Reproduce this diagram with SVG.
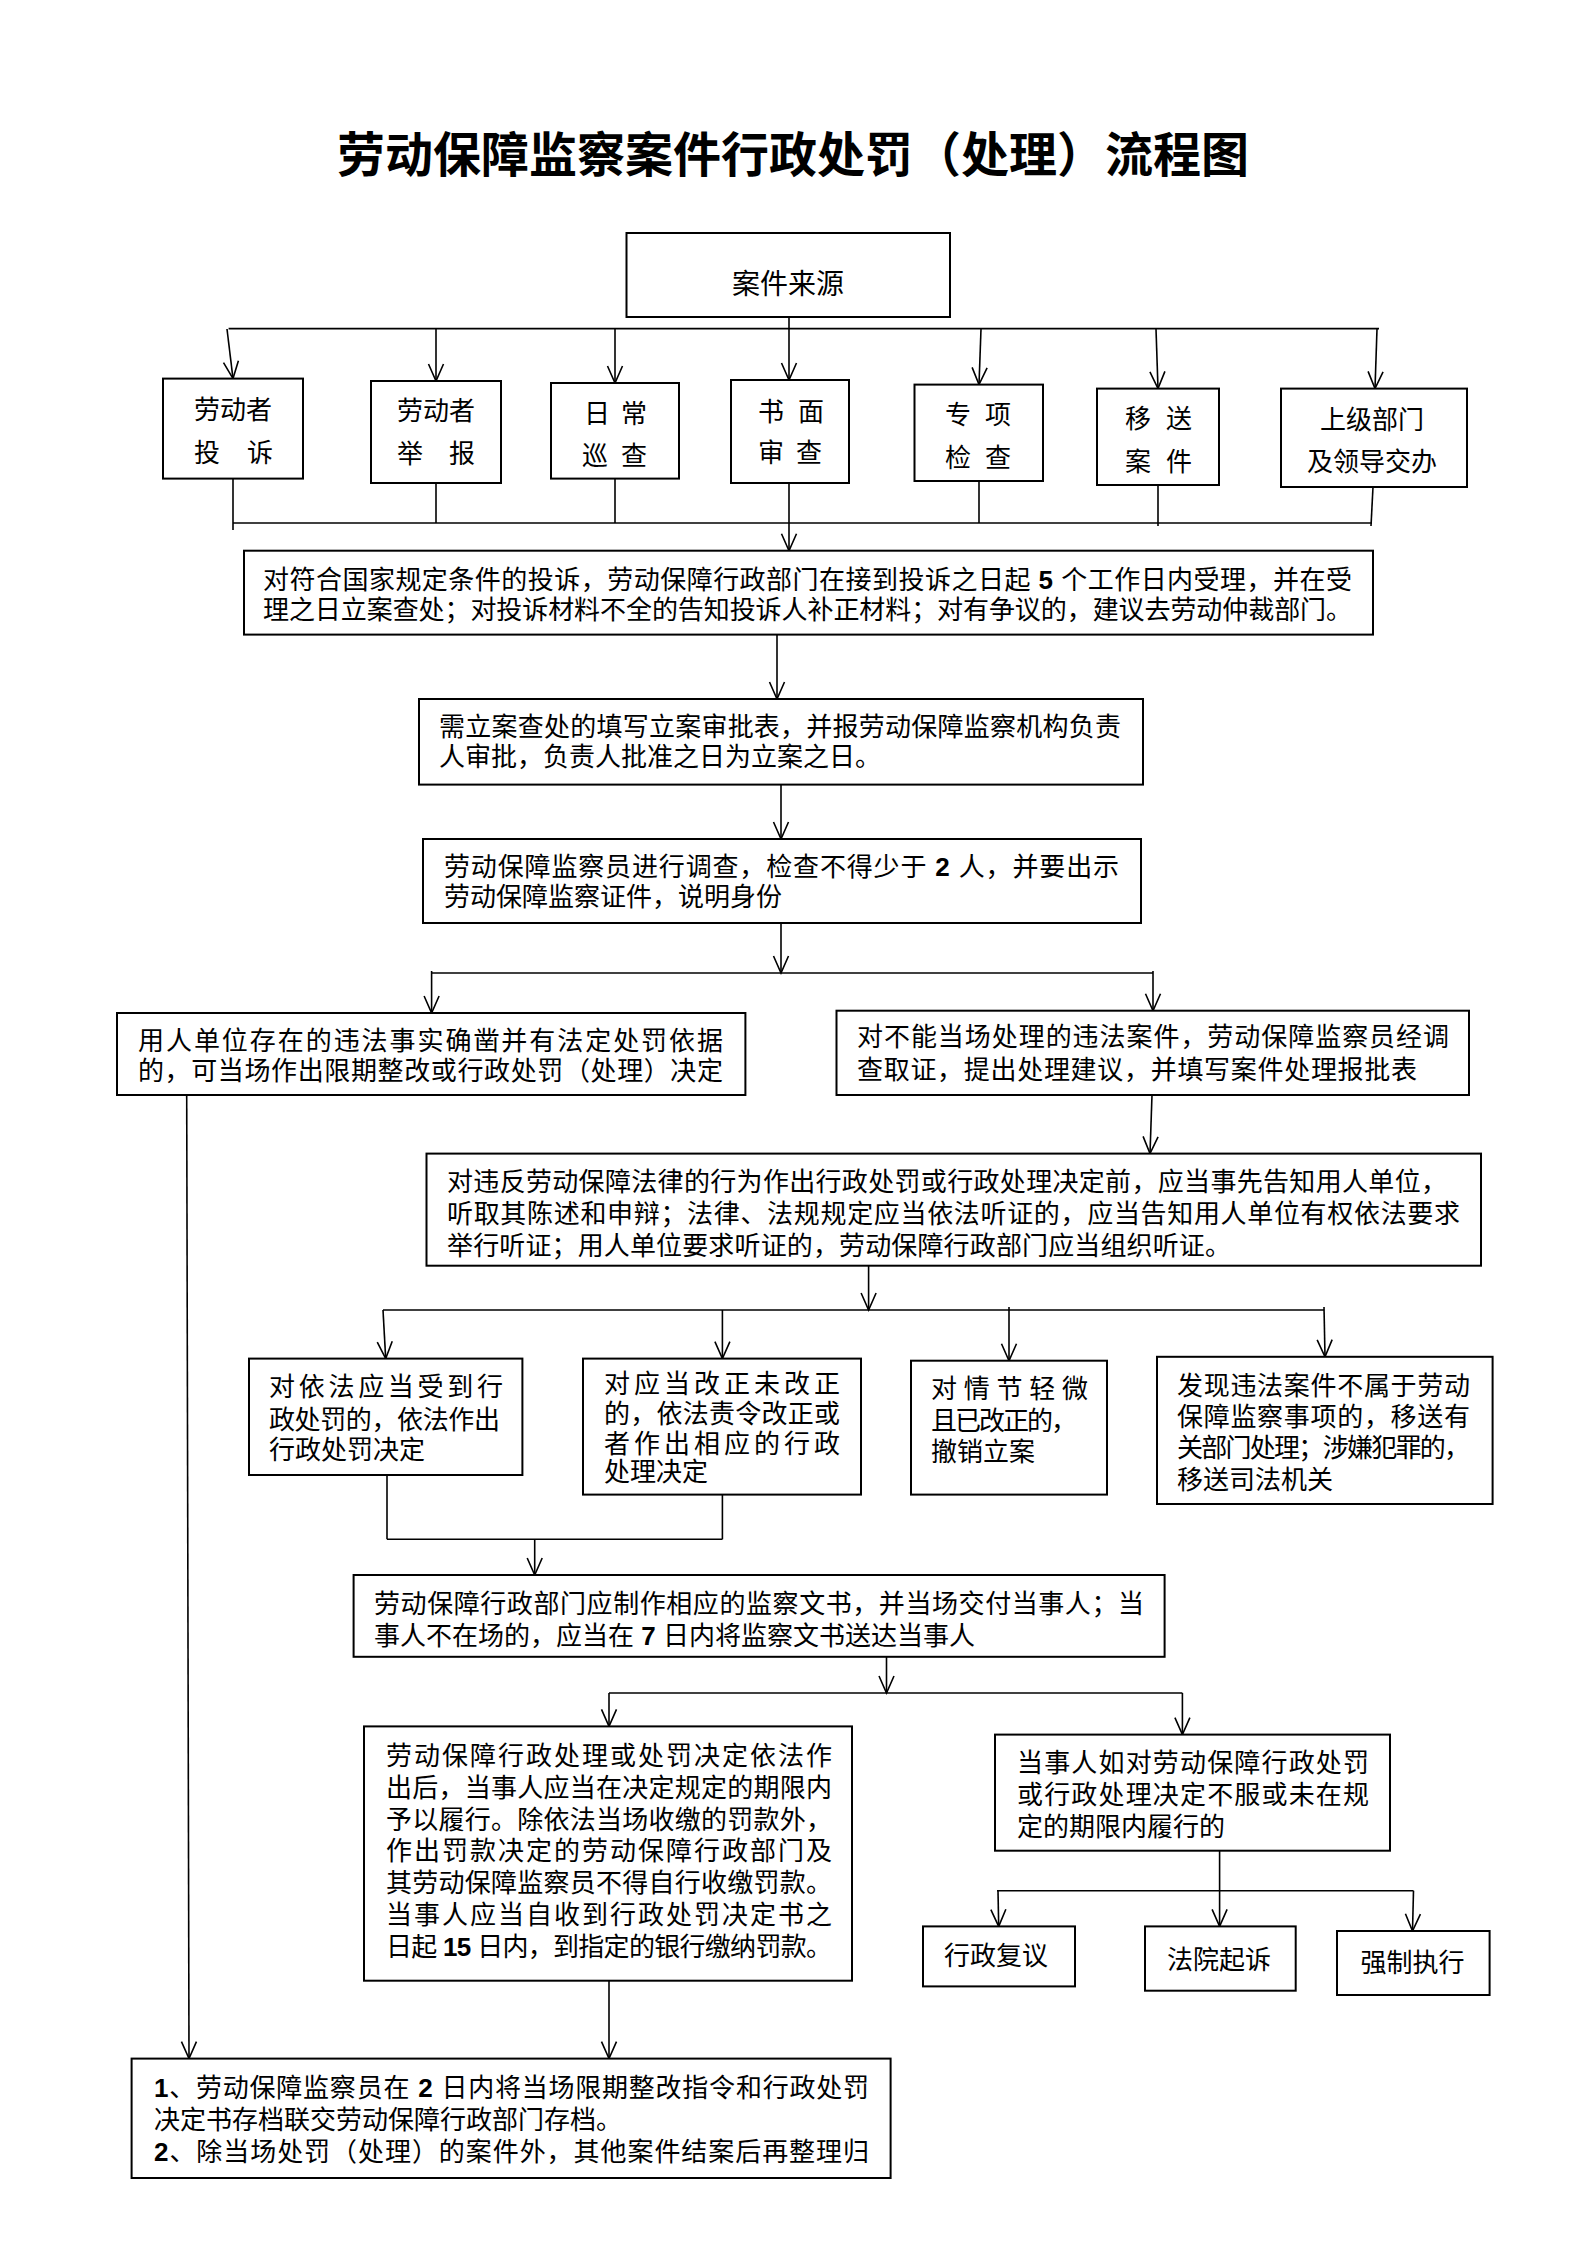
<svg xmlns="http://www.w3.org/2000/svg" width="1587" height="2245" viewBox="0 0 1587 2245">
<style>
.bx{fill:#fff;stroke:#000;stroke-width:2}
.t{font-family:"Liberation Sans","Noto Sans CJK SC",sans-serif;font-size:26px;fill:#000}
.d{font-weight:bold}
.c{fill:none;stroke:#000;stroke-width:1.6}
.title{font-family:"Noto Sans CJK SC",sans-serif;font-size:48px;font-weight:bold;fill:#000}
</style>
<defs>
<marker id="ah" viewBox="-19 -9 21 18" refX="0" refY="0" markerWidth="21" markerHeight="18" markerUnits="userSpaceOnUse" orient="auto">
<path d="M-17,-7.5 L0,0 L-17,7.5" fill="none" stroke="#000" stroke-width="1.6"/>
</marker>
</defs>
<rect x="0" y="0" width="1587" height="2245" fill="#fff"/>
<text class="title" x="793" y="172" text-anchor="middle" textLength="912">劳动保障监察案件行政处罚（处理）流程图</text>

<g id="connectors">
<line class="c" x1="228.6" y1="328.6" x2="1379" y2="328.6"/>
<line class="c" x1="789" y1="317" x2="789" y2="380" marker-end="url(#ah)"/>
<line class="c" x1="227" y1="329" x2="233" y2="378.6" marker-end="url(#ah)"/>
<line class="c" x1="436" y1="329" x2="436" y2="381" marker-end="url(#ah)"/>
<line class="c" x1="615" y1="329" x2="615" y2="383" marker-end="url(#ah)"/>
<line class="c" x1="981" y1="329" x2="979" y2="384.6" marker-end="url(#ah)"/>
<line class="c" x1="1156" y1="329" x2="1158" y2="388.6" marker-end="url(#ah)"/>
<line class="c" x1="1377" y1="329" x2="1375" y2="388.6" marker-end="url(#ah)"/>
<line class="c" x1="233" y1="478.6" x2="233" y2="530"/>
<line class="c" x1="436" y1="483" x2="436" y2="523"/>
<line class="c" x1="615" y1="478.6" x2="615" y2="523"/>
<line class="c" x1="979" y1="481" x2="979" y2="523"/>
<line class="c" x1="1158" y1="485" x2="1158" y2="526"/>
<line class="c" x1="1373" y1="487" x2="1371" y2="526"/>
<line class="c" x1="233" y1="523" x2="1372" y2="523"/>
<line class="c" x1="789" y1="483" x2="789" y2="550.7" marker-end="url(#ah)"/>
<line class="c" x1="777" y1="634.6" x2="777" y2="699" marker-end="url(#ah)"/>
<line class="c" x1="781" y1="784.6" x2="781" y2="839" marker-end="url(#ah)"/>
<line class="c" x1="781" y1="923" x2="781" y2="973" marker-end="url(#ah)"/>
<line class="c" x1="431.6" y1="973" x2="1153" y2="973"/>
<line class="c" x1="431.6" y1="971" x2="431.6" y2="1013" marker-end="url(#ah)"/>
<line class="c" x1="1153" y1="971" x2="1153" y2="1010.7" marker-end="url(#ah)"/>
<line class="c" x1="186.7" y1="1095" x2="189" y2="2058.6" marker-end="url(#ah)"/>
<line class="c" x1="1152" y1="1095" x2="1150" y2="1153.6" marker-end="url(#ah)"/>
<line class="c" x1="868.6" y1="1265.7" x2="868.6" y2="1310" marker-end="url(#ah)"/>
<line class="c" x1="383" y1="1310" x2="1324" y2="1310"/>
<line class="c" x1="383" y1="1310" x2="385.7" y2="1358.6" marker-end="url(#ah)"/>
<line class="c" x1="722.4" y1="1310" x2="722.4" y2="1358.6" marker-end="url(#ah)"/>
<line class="c" x1="1009" y1="1307" x2="1009" y2="1360.7" marker-end="url(#ah)"/>
<line class="c" x1="1324" y1="1307" x2="1325" y2="1356.8" marker-end="url(#ah)"/>
<line class="c" x1="387" y1="1475" x2="387" y2="1539.3"/>
<line class="c" x1="722.4" y1="1494.6" x2="722.4" y2="1539.3"/>
<line class="c" x1="387" y1="1539.3" x2="722.4" y2="1539.3"/>
<line class="c" x1="534.7" y1="1539.3" x2="534.7" y2="1575" marker-end="url(#ah)"/>
<line class="c" x1="886.5" y1="1656.8" x2="886.5" y2="1693" marker-end="url(#ah)"/>
<line class="c" x1="609" y1="1693" x2="1182.4" y2="1693"/>
<line class="c" x1="609" y1="1693" x2="609" y2="1726.4" marker-end="url(#ah)"/>
<line class="c" x1="1182.4" y1="1693" x2="1182.4" y2="1734.6" marker-end="url(#ah)"/>
<line class="c" x1="609" y1="1980.7" x2="609" y2="2058.6" marker-end="url(#ah)"/>
<line class="c" x1="1219.6" y1="1850.7" x2="1219.6" y2="1926.4" marker-end="url(#ah)"/>
<line class="c" x1="997" y1="1890.7" x2="1413.5" y2="1890.7"/>
<line class="c" x1="998" y1="1890.7" x2="998.7" y2="1926.4" marker-end="url(#ah)"/>
<line class="c" x1="1413.5" y1="1890.7" x2="1412.5" y2="1931" marker-end="url(#ah)"/>
</g>

<g id="n-source"><rect class="bx" x="626.5" y="233" width="323.5" height="84"/>
<text class="t" x="788" y="294" text-anchor="middle" style="font-size:28px">案件来源</text></g>

<g id="n-src1"><rect class="bx" x="163" y="378.6" width="140" height="100"/>
<text class="t" x="194" y="419">劳动者</text><text class="t" x="194 247" y="462">投诉</text></g>
<g id="n-src2"><rect class="bx" x="371" y="381" width="130" height="102"/>
<text class="t" x="397" y="420">劳动者</text><text class="t" x="397 449" y="463">举报</text></g>
<g id="n-src3"><rect class="bx" x="551" y="383" width="128" height="95.6"/>
<text class="t" x="584 621" y="422.5">日常</text><text class="t" x="582 621" y="465">巡查</text></g>
<g id="n-src4"><rect class="bx" x="731" y="380" width="118" height="103"/>
<text class="t" x="758 798" y="420.7">书面</text><text class="t" x="758 796" y="462">审查</text></g>
<g id="n-src5"><rect class="bx" x="914.5" y="384.6" width="128.5" height="96.4"/>
<text class="t" x="945 985" y="424">专项</text><text class="t" x="945 985" y="467">检查</text></g>
<g id="n-src6"><rect class="bx" x="1097" y="388.6" width="122" height="96.4"/>
<text class="t" x="1125 1166" y="428">移送</text><text class="t" x="1125 1166" y="470.7">案件</text></g>
<g id="n-src7"><rect class="bx" x="1281" y="388.6" width="186" height="98.4"/>
<text class="t" x="1320" y="429">上级部门</text><text class="t" x="1307" y="470.7">及领导交办</text></g>

<g id="n-accept"><rect class="bx" x="244" y="550.7" width="1129" height="83.9"/>
<text class="t" x="263" y="588.6" textLength="1089" lengthAdjust="spacing">对符合国家规定条件的投诉，劳动保障行政部门在接到投诉之日起 <tspan class="d">5</tspan> 个工作日内受理，并在受</text>
<text class="t" x="263" y="619" textLength="1089" lengthAdjust="spacing">理之日立案查处；对投诉材料不全的告知投诉人补正材料；对有争议的，建议去劳动仲裁部门。</text></g>

<g id="n-file"><rect class="bx" x="419" y="699" width="724" height="85.6"/>
<text class="t" x="439" y="736" textLength="682" lengthAdjust="spacing">需立案查处的填写立案审批表，并报劳动保障监察机构负责</text>
<text class="t" x="439" y="766">人审批，负责人批准之日为立案之日。</text></g>

<g id="n-investigate"><rect class="bx" x="423" y="839" width="718" height="84"/>
<text class="t" x="444" y="876" textLength="675" lengthAdjust="spacing">劳动保障监察员进行调查，检查不得少于 <tspan class="d">2</tspan> 人，并要出示</text>
<text class="t" x="444" y="906">劳动保障监察证件，说明身份</text></g>

<g id="n-onsite"><rect class="bx" x="117" y="1013" width="628.4" height="82"/>
<text class="t" x="138" y="1050" textLength="585" lengthAdjust="spacing">用人单位存在的违法事实确凿并有法定处罚依据</text>
<text class="t" x="138" y="1080" textLength="585" lengthAdjust="spacing">的，可当场作出限期整改或行政处罚（处理）决定</text></g>

<g id="n-notonsite"><rect class="bx" x="836.5" y="1010.7" width="632.5" height="84.3"/>
<text class="t" x="857" y="1046" textLength="592" lengthAdjust="spacing">对不能当场处理的违法案件，劳动保障监察员经调</text>
<text class="t" x="857" y="1078.6" textLength="560" lengthAdjust="spacing">查取证，提出处理建议，并填写案件处理报批表</text></g>

<g id="n-notify"><rect class="bx" x="426.5" y="1153.6" width="1054.5" height="112.1"/>
<text class="t" x="447" y="1191" textLength="1000" lengthAdjust="spacing">对违反劳动保障法律的行为作出行政处罚或行政处理决定前，应当事先告知用人单位，</text>
<text class="t" x="447" y="1223" textLength="1013" lengthAdjust="spacing">听取其陈述和申辩；法律、法规规定应当依法听证的，应当告知用人单位有权依法要求</text>
<text class="t" x="447" y="1255" textLength="784" lengthAdjust="spacing">举行听证；用人单位要求听证的，劳动保障行政部门应当组织听证。</text></g>

<g id="n-penalty"><rect class="bx" x="249" y="1358.6" width="273.4" height="116.4"/>
<text class="t" x="269" y="1396.4" textLength="234" lengthAdjust="spacing">对依法应当受到行</text>
<text class="t" x="269" y="1428.6" textLength="231" lengthAdjust="spacing">政处罚的，依法作出</text>
<text class="t" x="269" y="1459">行政处罚决定</text></g>

<g id="n-correct"><rect class="bx" x="583" y="1358.6" width="278" height="136"/>
<text class="t" x="604" y="1393" textLength="236" lengthAdjust="spacing">对应当改正未改正</text>
<text class="t" x="604" y="1423" textLength="236" lengthAdjust="spacing">的，依法责令改正或</text>
<text class="t" x="604" y="1453" textLength="236" lengthAdjust="spacing">者作出相应的行政</text>
<text class="t" x="604" y="1481">处理决定</text></g>

<g id="n-revoke"><rect class="bx" x="911" y="1360.7" width="196" height="133.9"/>
<text class="t" x="931" y="1398" textLength="157" lengthAdjust="spacing">对情节轻微</text>
<text class="t" x="931" y="1429.6" textLength="146" lengthAdjust="spacing">且已改正的，</text>
<text class="t" x="931" y="1460.7">撤销立案</text></g>

<g id="n-transfer"><rect class="bx" x="1157" y="1356.8" width="335.6" height="147.2"/>
<text class="t" x="1177" y="1394.6" textLength="293" lengthAdjust="spacing">发现违法案件不属于劳动</text>
<text class="t" x="1177" y="1425.7" textLength="293" lengthAdjust="spacing">保障监察事项的，移送有</text>
<text class="t" x="1177" y="1457" textLength="293" lengthAdjust="spacing">关部门处理；涉嫌犯罪的，</text>
<text class="t" x="1177" y="1488.6">移送司法机关</text></g>

<g id="n-document"><rect class="bx" x="353.6" y="1575" width="811" height="81.8"/>
<text class="t" x="374" y="1612.5" textLength="770" lengthAdjust="spacing">劳动保障行政部门应制作相应的监察文书，并当场交付当事人；当</text>
<text class="t" x="374" y="1644.6">事人不在场的，应当在 <tspan class="d">7</tspan> 日内将监察文书送达当事人</text></g>

<g id="n-perform"><rect class="bx" x="364" y="1726.4" width="488" height="254.3"/>
<text class="t" x="386" y="1765" textLength="446" lengthAdjust="spacing">劳动保障行政处理或处罚决定依法作</text>
<text class="t" x="386" y="1797" textLength="446" lengthAdjust="spacing">出后，当事人应当在决定规定的期限内</text>
<text class="t" x="386" y="1828.6" textLength="446" lengthAdjust="spacing">予以履行。除依法当场收缴的罚款外，</text>
<text class="t" x="386" y="1859.6" textLength="446" lengthAdjust="spacing">作出罚款决定的劳动保障行政部门及</text>
<text class="t" x="386" y="1891.8" textLength="446" lengthAdjust="spacing">其劳动保障监察员不得自行收缴罚款。</text>
<text class="t" x="386" y="1924" textLength="446" lengthAdjust="spacing">当事人应当自收到行政处罚决定书之</text>
<text class="t" x="386" y="1956" textLength="446" lengthAdjust="spacing">日起 <tspan class="d">15</tspan> 日内，到指定的银行缴纳罚款。</text></g>

<g id="n-refuse"><rect class="bx" x="995" y="1734.6" width="395" height="116.1"/>
<text class="t" x="1017" y="1772" textLength="352" lengthAdjust="spacing">当事人如对劳动保障行政处罚</text>
<text class="t" x="1017" y="1804" textLength="352" lengthAdjust="spacing">或行政处理决定不服或未在规</text>
<text class="t" x="1017" y="1836">定的期限内履行的</text></g>

<g id="n-review"><rect class="bx" x="923" y="1926.4" width="152" height="60"/>
<text class="t" x="996" y="1965" text-anchor="middle">行政复议</text></g>
<g id="n-lawsuit"><rect class="bx" x="1145" y="1926.4" width="150.7" height="64.3"/>
<text class="t" x="1219" y="1968.6" text-anchor="middle">法院起诉</text></g>
<g id="n-enforce"><rect class="bx" x="1337" y="1931" width="152.6" height="64"/>
<text class="t" x="1412.5" y="1972" text-anchor="middle">强制执行</text></g>

<g id="n-archive"><rect class="bx" x="131.6" y="2058.6" width="759" height="119.4"/>
<text class="t" x="154" y="2097" textLength="715" lengthAdjust="spacing"><tspan class="d">1</tspan>、劳动保障监察员在 <tspan class="d">2</tspan> 日内将当场限期整改指令和行政处罚</text>
<text class="t" x="154" y="2128.6">决定书存档联交劳动保障行政部门存档。</text>
<text class="t" x="154" y="2160.7" textLength="715" lengthAdjust="spacing"><tspan class="d">2</tspan>、除当场处罚（处理）的案件外，其他案件结案后再整理归</text></g>
</svg>
